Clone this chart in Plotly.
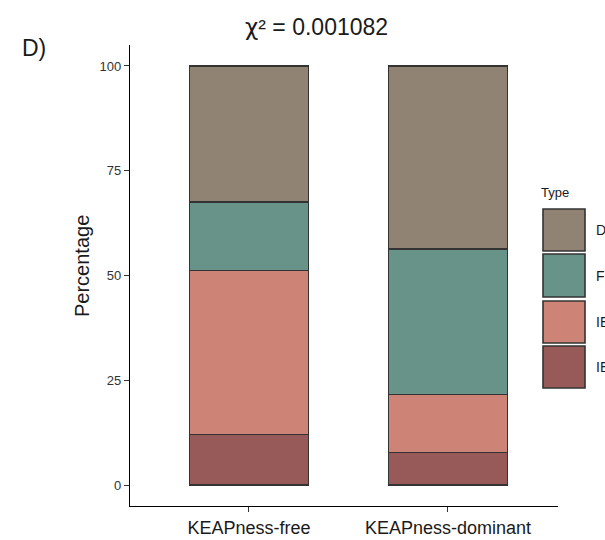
import plotly.graph_objects as go

# Groups on the x axis
groups = ["KEAPness-free", "KEAPness-dominant"]

# Stacked percentages per type (bottom to top)
ie_dark = [12.1, 7.7]
ie_light = [39.1, 13.9]
f_vals = [16.3, 34.7]
d_vals = [32.5, 43.7]

yticks = [0, 25, 50, 75, 100]

series = [
    ("IE", ie_dark, "#985a59"),
    ("IE", ie_light, "#cd8476"),
    ("F", f_vals, "#679389"),
    ("D", d_vals, "#918374"),
]

W, H = 605, 540
L, R, T, B = 130, 47, 45, 34
pw, ph = W - L - R, H - T - B


def px_x(x):
    return (x - L) / pw


def px_y(y):
    return 1 - (y - T) / ph


xpos = [1, 2]
fig = go.Figure()
for name, vals, col in series:
    fig.add_trace(go.Bar(
        x=xpos, y=vals, name=name, width=0.6,
        marker=dict(color=col, line=dict(color="#333333", width=1.4)),
        showlegend=False,
    ))

fig.update_layout(
    width=W, height=H,
    margin=dict(l=L, r=R, t=T, b=B, autoexpand=False),
    barmode="stack",
    plot_bgcolor="white", paper_bgcolor="white",
    font=dict(family="Liberation Sans, Arial, sans-serif", color="#1a1a1a"),
    xaxis=dict(
        range=[0.402, 2.553], tickvals=xpos, ticktext=groups,
        showline=True, linecolor="black", linewidth=1.4,
        ticks="outside", ticklen=5, tickcolor="#333333",
        showgrid=False, zeroline=False, automargin=False,
        tickfont=dict(size=18, color="#1a1a1a"),
    ),
    yaxis=dict(
        range=[-5, 105], tickvals=yticks,
        showline=True, linecolor="black", linewidth=1.4,
        ticks="outside", ticklen=5, tickcolor="#333333",
        showgrid=False, zeroline=False, automargin=False,
        tickfont=dict(size=13, color="#333333"),
    ),
)

# Y axis title
fig.add_annotation(text="Percentage", xref="paper", yref="paper",
                   x=px_x(82), y=px_y(266), showarrow=False, textangle=-90,
                   font=dict(size=20, color="#1a1a1a"), xanchor="center", yanchor="middle")

# Title and panel label
fig.add_annotation(text="<span style='font-family:DejaVu Sans'>χ</span>² = 0.001082",
                   xref="paper", yref="paper",
                   x=px_x(316), y=px_y(27), showarrow=False,
                   font=dict(size=23, color="#1a1a1a"), xanchor="center", yanchor="middle")
fig.add_annotation(text="D)", xref="paper", yref="paper",
                   x=px_x(20), y=px_y(48), showarrow=False,
                   font=dict(size=23, color="#1a1a1a"), xanchor="left", yanchor="middle")

# Legend drawn with large swatches
fig.add_annotation(text="Type", xref="paper", yref="paper",
                   x=px_x(539), y=px_y(192), showarrow=False,
                   font=dict(size=13, color="#1a1a1a"), xanchor="left", yanchor="middle")
rows = [(209, 251), (254, 297), (301, 343), (346, 388)]
for (name, vals, col), (y0, y1) in zip(reversed(series), rows):
    fig.add_shape(type="rect", xref="paper", yref="paper",
                  x0=px_x(543), x1=px_x(585), y0=px_y(y1), y1=px_y(y0),
                  fillcolor=col, line=dict(color="#333333", width=1.6))
    fig.add_annotation(text=name, xref="paper", yref="paper",
                       x=px_x(594), y=px_y((y0 + y1) / 2), showarrow=False,
                       font=dict(size=14, color="#1a1a1a"), xanchor="left", yanchor="middle")

fig.write_html("out.html")
